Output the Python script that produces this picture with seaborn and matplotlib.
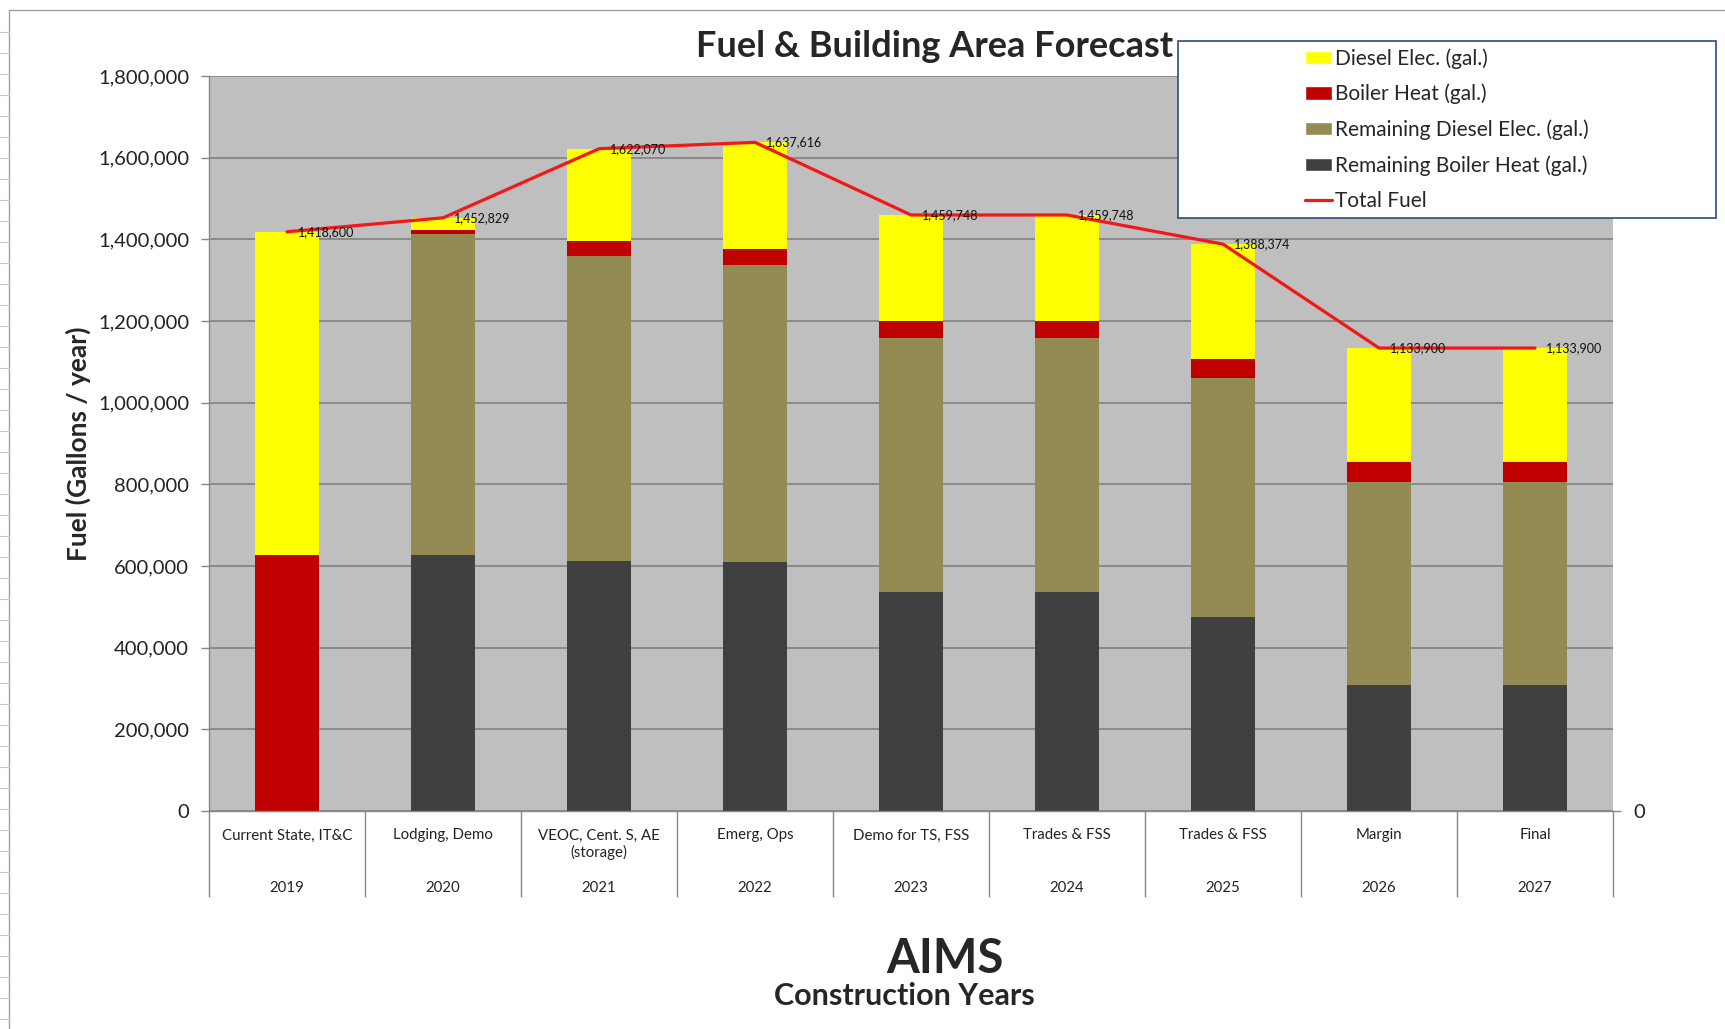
import matplotlib
matplotlib.use("Agg")
import matplotlib.pyplot as plt
import matplotlib.transforms as mtransforms
from matplotlib.patches import Patch, Rectangle
from matplotlib.lines import Line2D
from matplotlib.ticker import FuncFormatter
import numpy as np
import pandas as pd
import seaborn as sns

# chart data
years = ["2019", "2020", "2021", "2022", "2023", "2024", "2025", "2026", "2027"]
phases = ["Current State, IT&C", "Lodging, Demo", "VEOC, Cent. S, AE\n(storage)",
          "Emerg, Ops", "Demo for TS, FSS", "Trades & FSS", "Trades & FSS",
          "Margin", "Final"]
remaining_boiler = [0, 628000, 612000, 610000, 537000, 537000, 475000, 308000, 308000]
remaining_diesel = [0, 786000, 747000, 727000, 622000, 622000, 585000, 498000, 498000]
boiler_heat = [628000, 9000, 38000, 40000, 40000, 40000, 48000, 48000, 48000]
diesel_elec = [790600, 29829, 225070, 260616, 260748, 260748, 280374, 279900, 279900]
total_fuel = [1418600, 1452829, 1622070, 1637616, 1459748, 1459748, 1388374, 1133900, 1133900]

YELLOW = "#FFFF00"
RED = "#C00000"
OLIVE = "#948A54"
DARK = "#404040"
LINE_RED = "#F01818"
GRID = "#868686"

sns.set_theme(style="white")
plt.rcParams["font.family"] = ["Lato", "DejaVu Sans"]

df = pd.DataFrame({
    "year": years,
    "remaining_boiler": remaining_boiler,
    "remaining_diesel": remaining_diesel,
    "boiler_heat": boiler_heat,
    "diesel_elec": diesel_elec,
})
# cumulative tops so layers can be overlaid from the top down
df["top_rb"] = df["remaining_boiler"]
df["top_rd"] = df["top_rb"] + df["remaining_diesel"]
df["top_bh"] = df["top_rd"] + df["boiler_heat"]
df["top_de"] = df["top_bh"] + df["diesel_elec"]

fig = plt.figure(figsize=(17.25, 10.29), dpi=100)
ax = fig.add_axes([0.1212, 0.2118, 0.8139, 0.7143])
ax.set_facecolor("#BFBFBF")
ax.set_axisbelow(True)
ax.grid(axis="y", color=GRID, linewidth=1.3)

for col, color in [("top_de", YELLOW), ("top_bh", RED), ("top_rd", OLIVE), ("top_rb", DARK)]:
    sns.barplot(data=df, x="year", y=col, color=color, saturation=1, width=0.41,
                errorbar=None, linewidth=0, ax=ax, zorder=2)

sns.lineplot(x=np.arange(len(years)), y=total_fuel, color=LINE_RED, linewidth=2.3,
             ax=ax, zorder=5)
for i, v in enumerate(total_fuel):
    ax.annotate(f"{v:,}", (i, v), xytext=(8, 0), textcoords="offset points",
                va="center", ha="left", fontsize=9, color="#111111", zorder=6)

ax.set_xlim(-0.5, len(years) - 0.5)
ax.set_ylim(0, 1800000)
ax.set_yticks(range(0, 1800001, 200000))
ax.yaxis.set_major_formatter(FuncFormatter(lambda x, p: f"{x:,.0f}"))
ax.tick_params(axis="y", left=True, length=6, width=1, color=GRID, pad=8.4,
               labelsize=14.5, labelcolor="#222222")
ax.set_xticks(range(len(years)))
ax.set_xticklabels(phases)
ax.tick_params(axis="x", bottom=False, length=0, pad=12.5, labelsize=10.8, labelcolor="#222222")
ax.set_xlabel("")
ax.set_ylabel("Fuel (Gallons / year)", fontsize=19, fontweight="bold")
ax.yaxis.set_label_coords(-0.084, 0.5)

for s in ["top", "right"]:
    ax.spines[s].set_visible(False)
for s in ["left", "bottom"]:
    ax.spines[s].set_color(GRID)
    ax.spines[s].set_linewidth(1)

# second level of the category axis (years) and its separators
trans = mtransforms.blended_transform_factory(ax.transData, ax.transAxes)
for i, yr in enumerate(years):
    ax.text(i, -0.1045, yr, transform=trans, ha="center", va="center",
            fontsize=10.8, color="#222222")
ax.vlines(np.arange(len(years) + 1) - 0.5, 0, -0.117, transform=trans,
          color=GRID, linewidth=1, clip_on=False)

# empty secondary axis showing only 0
ax2 = ax.twinx()
ax2.set_ylim(0, 1)
ax2.set_yticks([0])
ax2.tick_params(axis="y", right=True, length=6, width=1, color=GRID, pad=8.4,
                labelsize=14.5, labelcolor="#222222")
ax2.grid(False)
for s in ax2.spines.values():
    s.set_visible(False)

# legend box
fig.add_artist(Rectangle((0.6829, 0.7883), 0.3119, 0.1721, transform=fig.transFigure,
                         facecolor="white", edgecolor="#2F4A7D", linewidth=1.2, zorder=3))
handles = [
    Patch(facecolor=YELLOW, label="Diesel Elec. (gal.)"),
    Patch(facecolor=RED, label="Boiler Heat (gal.)"),
    Patch(facecolor=OLIVE, label="Remaining Diesel Elec. (gal.)"),
    Patch(facecolor=DARK, label="Remaining Boiler Heat (gal.)"),
    Line2D([], [], color=LINE_RED, linewidth=2.3, label="Total Fuel"),
]
leg = fig.legend(handles=handles, loc="center", bbox_to_anchor=(0.8388, 0.8743),
                 frameon=False, fontsize=15, handlelength=1.3, handleheight=0.6,
                 handletextpad=0.15, labelspacing=0.72, borderpad=0.2)
leg.set_zorder(6)

fig.text(0.542, 0.955, "Fuel & Building Area Forecast", ha="center", va="center",
         fontsize=26, fontweight="bold")
fig.text(0.548, 0.068, "AIMS", ha="center", va="center", fontsize=34, fontweight="bold")
fig.text(0.524, 0.032, "Construction Years", ha="center", va="center", fontsize=22,
         fontweight="bold")

# spreadsheet frame around the chart
fx = 9 / 1725
fy = 1 - 10 / 1029
fig.add_artist(Line2D([fx, fx], [0, fy], transform=fig.transFigure, color="#A0A0A0", lw=1))
fig.add_artist(Line2D([fx, 1], [fy, fy], transform=fig.transFigure, color="#A0A0A0", lw=1))
for ypx in range(32, 1029, 21):
    fig.add_artist(Line2D([0, fx], [1 - ypx / 1029] * 2, transform=fig.transFigure,
                          color="#C8C8C8", lw=0.8))

fig.savefig("out.png", dpi=100)
plt.close(fig)
